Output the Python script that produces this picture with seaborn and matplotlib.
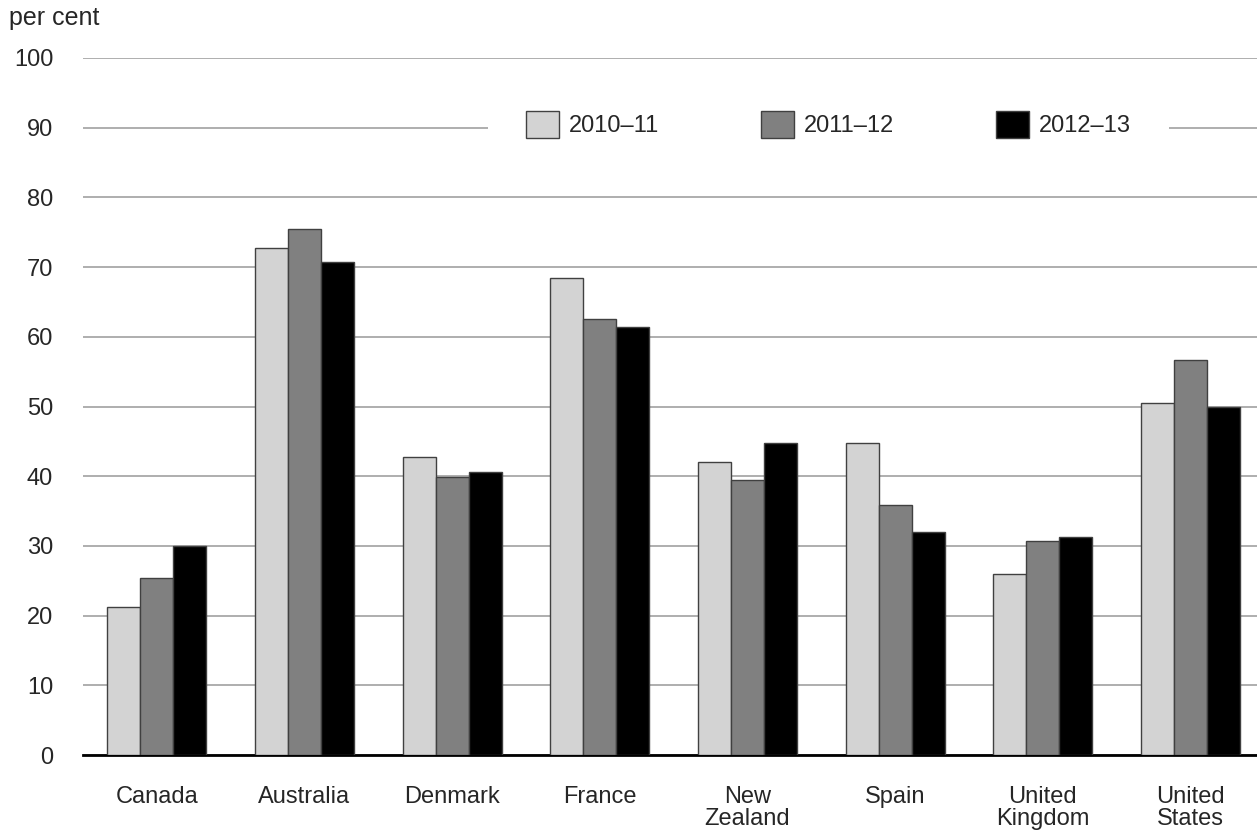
import numpy as np
import pandas as pd
import seaborn as sns
import matplotlib
matplotlib.use("Agg")
import matplotlib.pyplot as plt

countries = ["Canada", "Australia", "Denmark", "France", "New\nZealand",
             "Spain", "United\nKingdom", "United\nStates"]
years = ["2010\u201311", "2011\u201312", "2012\u201313"]
v_2010_11 = [21.3, 72.7, 42.7, 68.4, 42.0, 44.8, 26.0, 50.5]
v_2011_12 = [25.4, 75.4, 39.9, 62.6, 39.4, 35.9, 30.7, 56.7]
v_2012_13 = [30.0, 70.7, 40.6, 61.4, 44.8, 32.0, 31.3, 50.0]
colors = ["#d3d3d3", "#808080", "#000000"]

# long format for seaborn
df = pd.DataFrame({
    "country": countries * 3,
    "year": np.repeat(years, len(countries)),
    "value": v_2010_11 + v_2011_12 + v_2012_13,
})

sns.set_style("white")
plt.rcParams["font.family"] = ["Liberation Sans", "DejaVu Sans"]
fs = 17

fig = plt.figure(figsize=(12.57, 8.34), dpi=100)
ax = fig.add_axes([83 / 1257, 1 - 755 / 834, 1 - 83 / 1257, 697 / 834])

sns.barplot(data=df, x="country", y="value", hue="year", palette=colors,
            width=0.67, saturation=1, edgecolor="#404040", linewidth=1,
            ax=ax, zorder=3)

ax.set_ylim(0, 100)
ax.set_xlim(-0.5, 7.45)
ax.set_yticks(range(0, 101, 10))
ax.set_xlabel("")
ax.set_ylabel("")
ax.yaxis.grid(True, color="#a8a8a8", lw=1.3)
ax.set_axisbelow(True)
for s in ["top", "right", "left"]:
    ax.spines[s].set_visible(False)
ax.spines["bottom"].set_color("black")
ax.spines["bottom"].set_linewidth(2)

ax.tick_params(axis="y", length=0, pad=21.5, labelsize=fs)
ax.tick_params(axis="x", length=0, pad=22, labelsize=fs)
for lab in ax.get_xticklabels():
    lab.set_linespacing(1.0)

fig.text(9 / 1257, 1 - 18 / 834, "per cent", fontsize=18, va="center", ha="left")

leg = ax.legend(ncol=3, loc="center", bbox_to_anchor=(0.635, 0.905),
                frameon=True, fontsize=fs, handlelength=1.4, handleheight=1.4,
                handletextpad=0.42, columnspacing=4.3, borderpad=1.6,
                borderaxespad=0)
leg.get_frame().set_facecolor("white")
leg.get_frame().set_edgecolor("none")
leg.get_frame().set_alpha(1)
leg.get_frame().set_boxstyle("square", pad=0)
for h in leg.legend_handles:
    h.set_edgecolor("#404040")

fig.savefig("out.png", dpi=100)
